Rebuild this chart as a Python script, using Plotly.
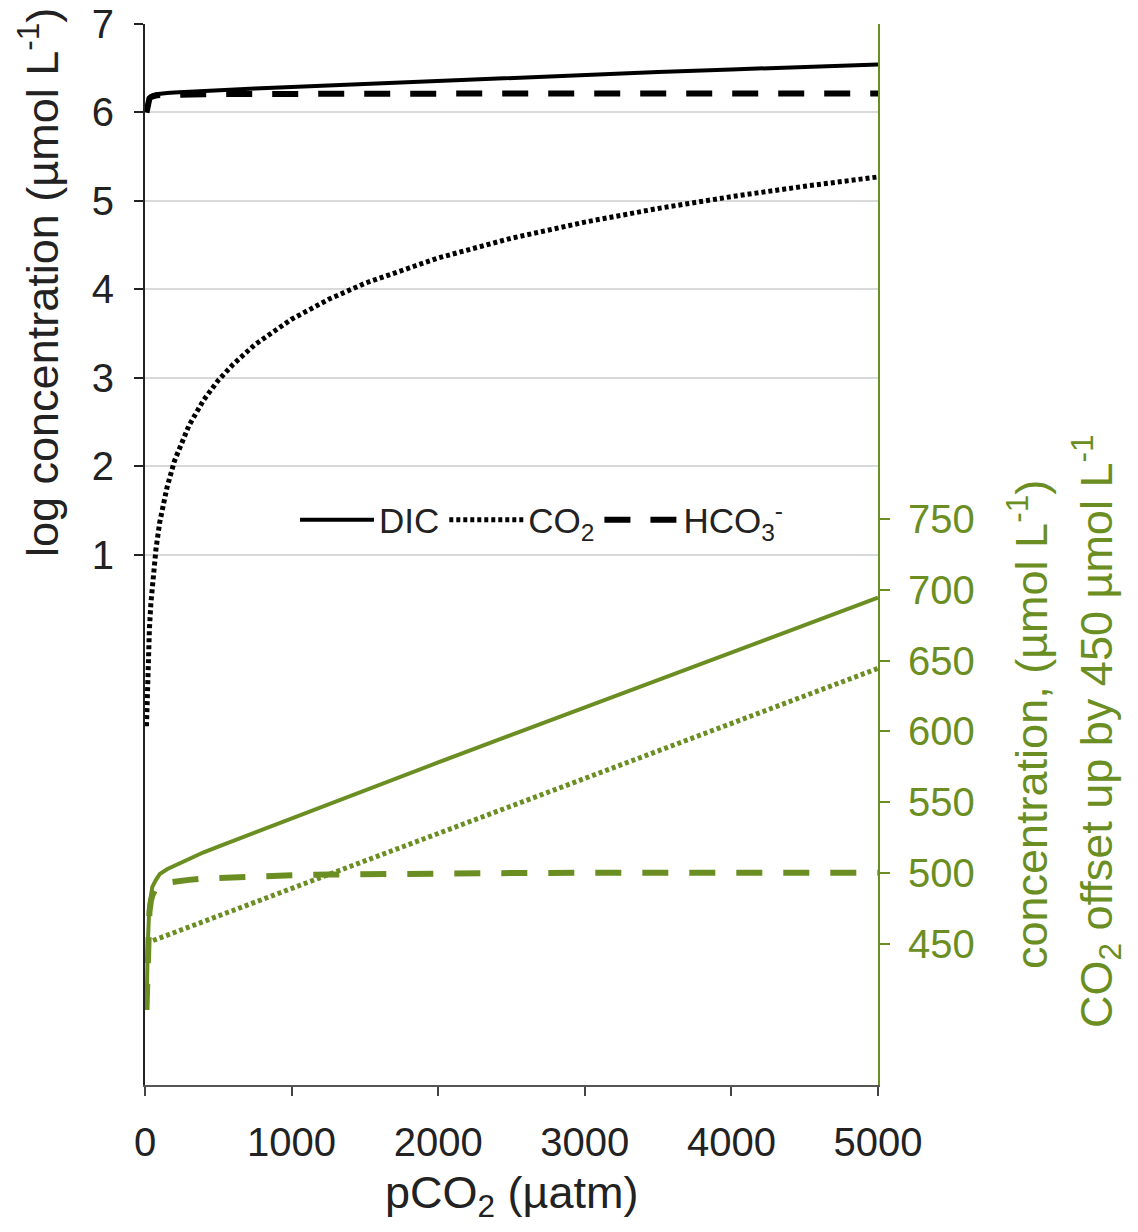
import numpy as np
import plotly.graph_objects as go

# pCO2 (µatm) and the carbonate species (µmol L-1)
pco2 = [10, 15, 20, 30, 40, 50, 75, 100, 150, 200, 250, 300, 400, 500, 600, 750,
        1000, 1250, 1500, 2000, 2500, 3000, 3500, 4000, 4500, 5000]
co2 = [0.39, 0.58, 0.78, 1.17, 1.56, 1.95, 2.9, 3.9, 5.8, 7.8, 9.7, 11.7, 15.6, 19.5, 23.3, 29.2,
       38.9, 48.6, 58.4, 77.8, 97.3, 116.7, 136.2, 155.6, 175.1, 194.5]
hco3 = [403, 428, 447, 472, 480, 484, 489, 491, 493, 494, 494.5, 495, 496, 496.5, 497, 497.5,
        498.3, 498.8, 499.2, 499.6, 499.8, 500, 500, 500, 500, 500]
dic = [404, 432, 452, 477, 486, 490, 495, 499, 502.5, 505, 507.5, 510, 514.5, 518.5, 522.5, 528.5,
       538.5, 548, 558, 578, 597.5, 617, 636.5, 656, 675.5, 694.5]

CO2_OFFSET = 450
x_ticks = [0, 1000, 2000, 3000, 4000, 5000]
left_ticks = [1, 2, 3, 4, 5, 6, 7]
right_ticks = [450, 500, 550, 600, 650, 700, 750]

GREEN = "#6B8E23"
INK = "#222222"
FONT = "Liberation Sans, Arial, sans-serif"

W, H = 1138, 1232
L, R, T, B = 145, 260, 24, 147
pw, ph = W - L - R, H - T - B


def px(xp):
    return (xp - L) / pw


def py(yp):
    return (H - B - yp) / ph


fig = go.Figure()

# natural-log concentrations on the left axis
fig.add_trace(go.Scatter(x=pco2, y=np.log(dic), name="DIC", mode="lines",
                         line=dict(color="black", width=4)))
fig.add_trace(go.Scatter(x=pco2, y=np.log(co2), name="CO<sub>2</sub>", mode="lines",
                         line=dict(color="black", width=5, dash="4px,3px")))
fig.add_trace(go.Scatter(x=pco2, y=np.log(hco3), name="HCO<sub>3</sub><sup>-</sup>", mode="lines",
                         line=dict(color="black", width=6, dash="26px,20px")))

# linear concentrations on the right axis (CO2 shifted up)
fig.add_trace(go.Scatter(x=pco2, y=dic, yaxis="y2", mode="lines", showlegend=False,
                         line=dict(color=GREEN, width=4)))
fig.add_trace(go.Scatter(x=pco2, y=np.array(co2) + CO2_OFFSET, yaxis="y2", mode="lines",
                         showlegend=False, line=dict(color=GREEN, width=5, dash="4px,3px")))
fig.add_trace(go.Scatter(x=pco2, y=hco3, yaxis="y2", mode="lines", showlegend=False,
                         line=dict(color=GREEN, width=6, dash="26px,21px")))

fig.update_layout(
    width=W, height=H,
    margin=dict(l=L, r=R, t=T, b=B, autoexpand=False),
    paper_bgcolor="white", plot_bgcolor="white",
    font=dict(family=FONT, color=INK),
    xaxis=dict(range=[0, 5000], tickvals=x_ticks, ticks="outside", ticklen=9,
               tickcolor="#444", tickwidth=1.5, showline=True, linecolor="#555",
               linewidth=2, showgrid=False, zeroline=False, automargin=False,
               tickfont=dict(size=40, color=INK), ticklabelstandoff=12),
    yaxis=dict(range=[-5, 7], tickvals=left_ticks, ticks="outside", ticklen=9,
               tickcolor=INK, tickwidth=1.5, showline=True, linecolor=INK,
               linewidth=2, showgrid=True, gridcolor="#d9d9d9", gridwidth=2,
               zeroline=False, automargin=False,
               tickfont=dict(size=40, color=INK), ticklabelstandoff=12),
    yaxis2=dict(range=[350, 1100], overlaying="y", side="right", tickvals=right_ticks,
                ticks="outside", ticklen=10, tickcolor=GREEN, tickwidth=1.5,
                showline=True, linecolor=GREEN, linewidth=2, showgrid=False,
                zeroline=False, automargin=False,
                tickfont=dict(size=40, color=GREEN), ticklabelstandoff=10),
    legend=dict(orientation="h", x=px(542), y=py(520), xanchor="center", yanchor="middle",
                font=dict(size=35, color=INK), bgcolor="rgba(0,0,0,0)",
                itemwidth=74, tracegroupgap=0),
    showlegend=True,
)

titles = [
    dict(text="log concentration (µmol L<sup>-1</sup>)", x=39, y=283, angle=-90, color=INK),
    dict(text="concentration, (µmol L<sup>-1</sup>)", x=1028, y=725, angle=-90, color=GREEN),
    dict(text="CO<sub>2</sub> offset up by 450 µmol L<sup>-1</sup>", x=1096, y=732, angle=-90,
         color=GREEN),
    dict(text="pCO<sub>2</sub> (µatm)", x=511, y=1195, angle=0, color=INK),
]
for t in titles:
    fig.add_annotation(text=t["text"], textangle=t["angle"], x=px(t["x"]), y=py(t["y"]),
                       xref="paper", yref="paper", xanchor="center", yanchor="middle",
                       showarrow=False, font=dict(size=45, color=t["color"]))

fig.write_html("out.html")
